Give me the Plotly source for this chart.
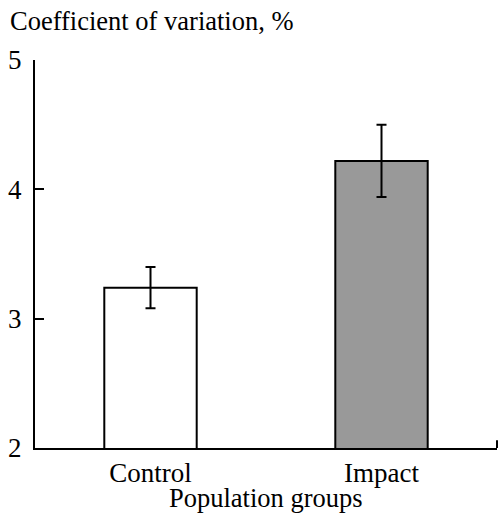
import plotly.graph_objects as go

categories = ["Control", "Impact"]
values = [3.24, 4.22]
errors = [0.16, 0.28]
colors = ["#ffffff", "#999999"]
y_ticks = [2, 3, 4, 5]

FONT = "Liberation Serif"
FS = 27

fig = go.Figure()
fig.add_trace(go.Bar(
    x=categories, y=values, width=0.4,
    marker=dict(color=colors, line=dict(color="black", width=2)),
    error_y=dict(type="data", array=errors, visible=True,
                 color="black", thickness=2, width=5),
))

fig.update_layout(
    width=500, height=514,
    margin=dict(l=35, r=3, t=60, b=66),
    plot_bgcolor="white", paper_bgcolor="white",
    showlegend=False,
    font=dict(family=FONT, size=FS, color="black"),
    title=dict(text="Coefficient of variation, %", xref="container", yref="container",
               x=10 / 500, xanchor="left", y=1 - 11 / 514, yanchor="top", pad=dict(t=0, l=0),
               font=dict(family=FONT, size=26.5, color="black")),
    xaxis=dict(range=[-0.5, 1.5], showline=True, linewidth=2, linecolor="black",
               ticks="", showgrid=False, zeroline=False,
               tickfont=dict(family=FONT, size=FS), ticklabelstandoff=0),
    yaxis=dict(range=[2, 5], tickvals=y_ticks, showline=True, linewidth=2,
               linecolor="black", ticks="inside", ticklen=9, tickwidth=2,
               tickcolor="black", showgrid=False, zeroline=False,
               tickfont=dict(family=FONT, size=FS), ticklabelstandoff=6),
    shapes=[dict(type="line", xref="paper", yref="paper", x0=1, x1=1, y0=0, y1=0.02,
                 line=dict(color="black", width=2))],
    annotations=[dict(text="Population groups", xref="paper", yref="paper",
                      x=0.5, y=0, yshift=-33, xanchor="center", yanchor="top",
                      showarrow=False, font=dict(family=FONT, size=26.5, color="black"))],
)

fig.write_html("out.html", config={"displayModeBar": False},
               post_script="document.body.style.margin='0';")
